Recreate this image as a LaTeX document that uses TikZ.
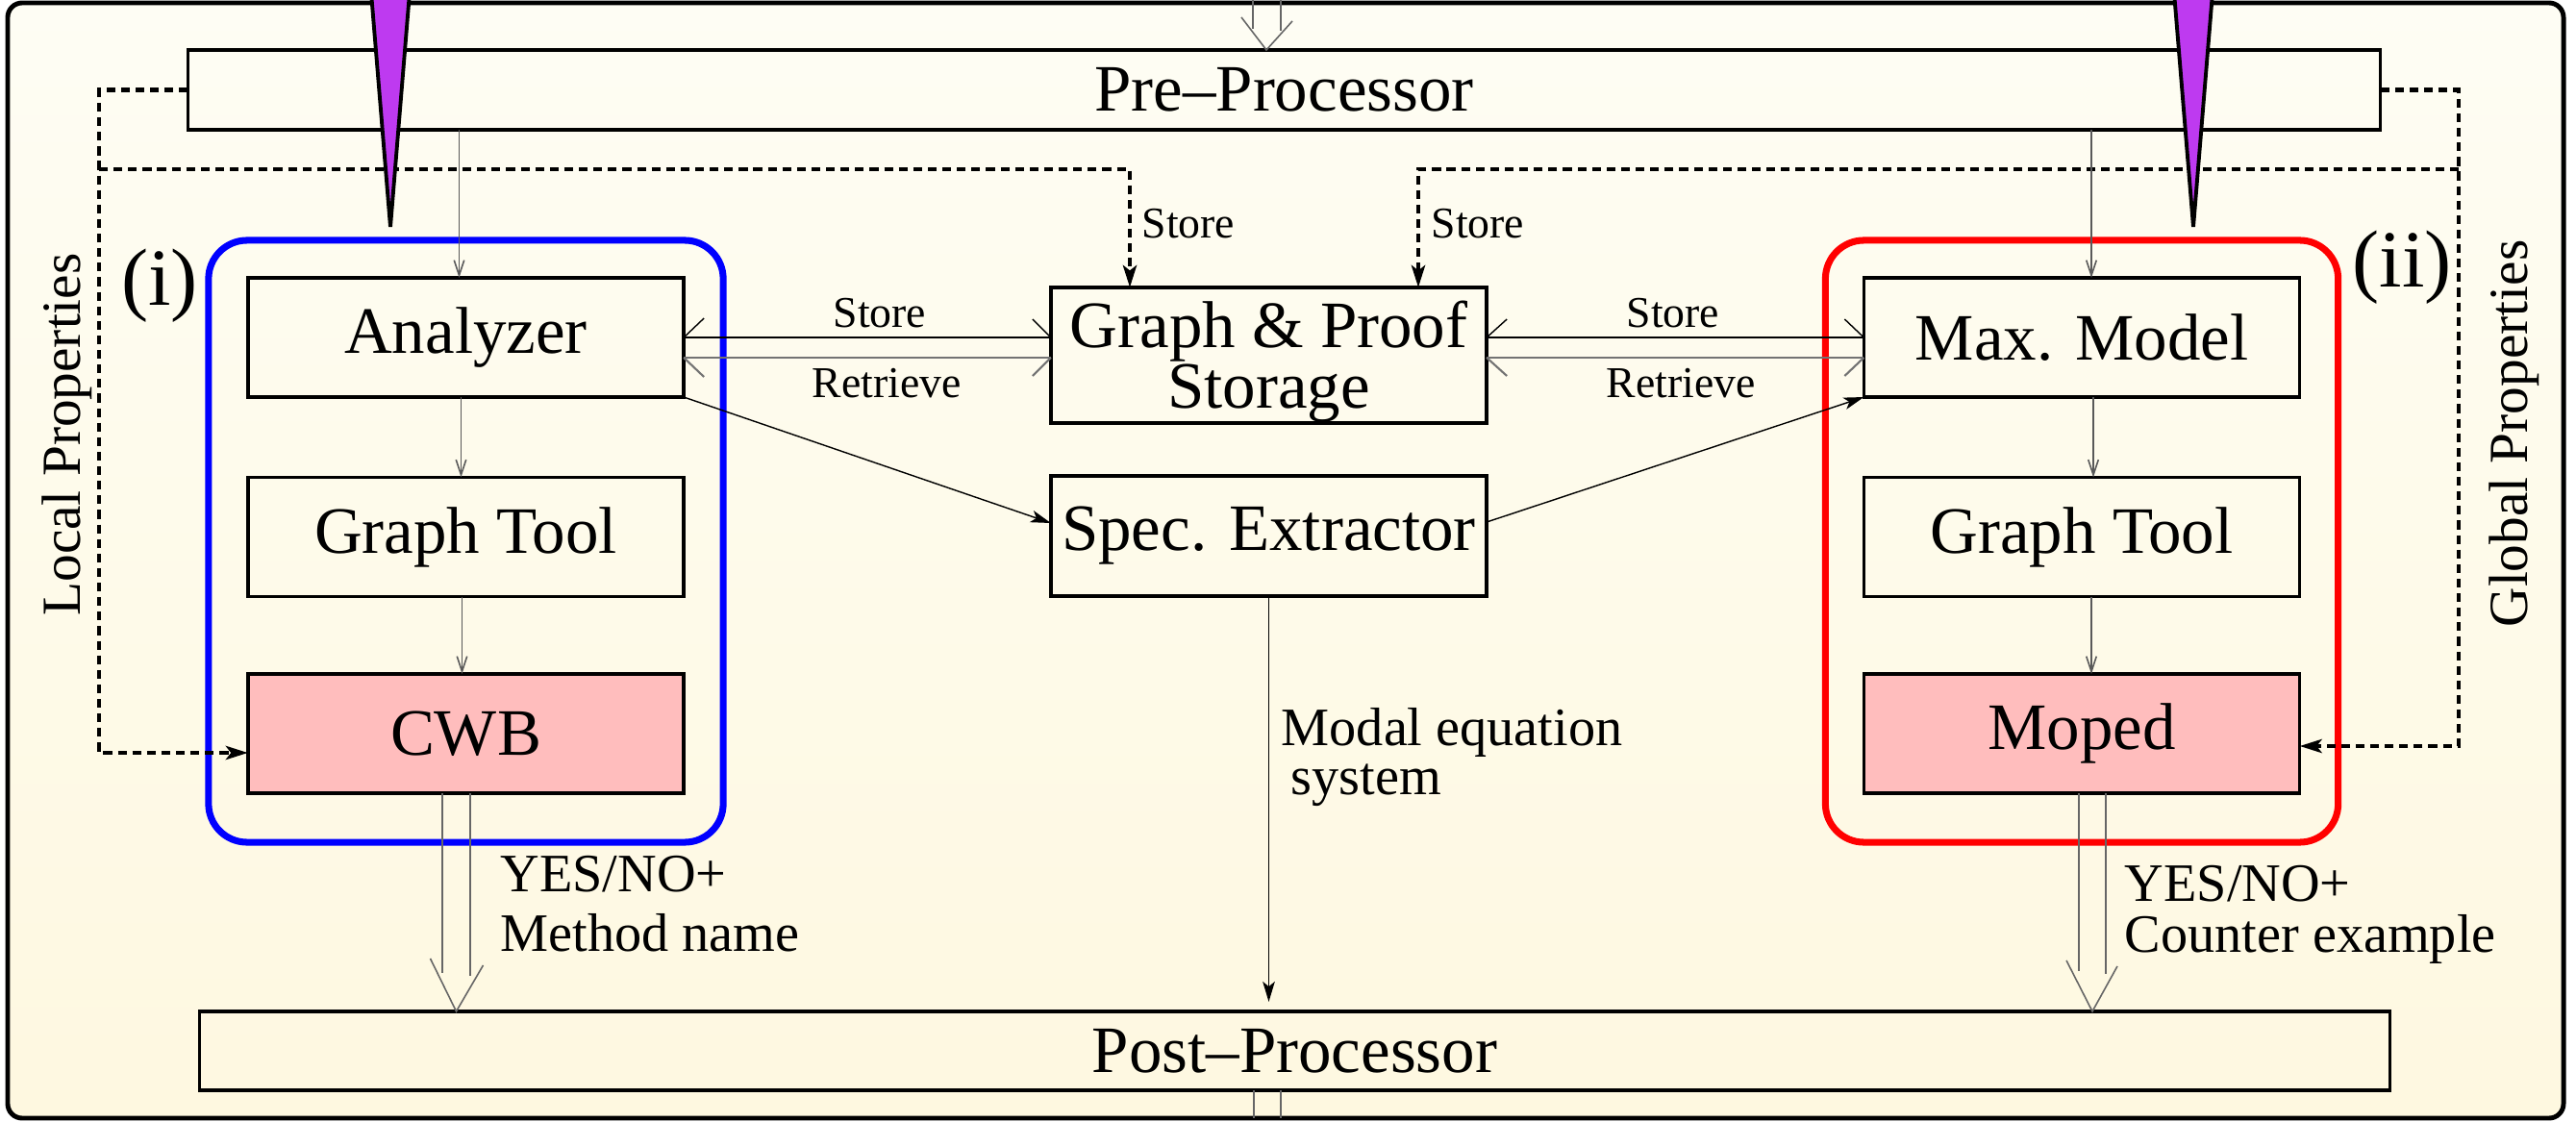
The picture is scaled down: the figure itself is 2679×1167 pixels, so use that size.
\documentclass[tikz,border=0pt]{standalone}
\usepackage{fontspec}
\setmainfont{Liberation Serif}
\usetikzlibrary{arrows.meta,calc}

\definecolor{paperTop}{RGB}{254,253,244}
\definecolor{paperBottom}{RGB}{254,248,224}
\definecolor{toolPink}{RGB}{255,189,189}
\definecolor{probeViolet}{RGB}{190,58,240}

\newcommand\boxfont{\fontsize{19.6}{18}\selectfont}

\tikzset{
  box/.style={draw=black, line width=1pt, minimum width=4.53cm, minimum height=1.24cm,
    inner sep=0pt, outer sep=0pt, align=center, font=\boxfont},
  tool/.style={box, fill=toolPink},
  bar/.style={draw=black, line width=1pt, inner sep=0pt, outer sep=0pt,
    font=\fontsize{19.6}{22}\selectfont},
  group/.style={line width=2pt, rounded corners=0.4cm},
  tag/.style={inner sep=0pt, font=\fontsize{24}{28}\selectfont},
  side/.style={inner sep=0pt, font=\fontsize{16.3}{19}\selectfont},
  small/.style={inner sep=0pt, font=\fontsize{13}{15}\selectfont},
  mid/.style={inner sep=0pt, align=left},
  flow/.style={draw=black!65, line width=0.45pt,
    -{Straight Barb[length=4.5pt, width=3pt, line width=0.45pt]}},
  solidArrow/.style={draw=black, line width=0.4pt,
    -{Stealth[length=6pt, width=3.6pt, inset=1.5pt]}},
  link/.style={draw=black, line width=0.4pt},
  linkgray/.style={draw=black!55, line width=0.6pt},
  dbl/.style={draw=black!60, line width=0.45pt},
  prop/.style={draw=black, line width=1.3pt, dash pattern=on 2.6pt off 1.7pt,
    -{Stealth[length=6.5pt, width=4pt, inset=1.5pt]}},
  probe/.style={fill=probeViolet, draw=black, line width=1.1pt},
}

\begin{document}
\begin{tikzpicture}[x=0.01cm, y=-0.01cm]
\useasboundingbox (0,0) rectangle (2679,1167);
\fill[white] (0,0) rectangle (2679,1167);

% outer frame with a soft paper tint
\path[draw=black, line width=1.4pt, rounded corners=0.15cm,
  top color=paperTop, bottom color=paperBottom] (8,3) rectangle (2666,1163);

% pre- and post-processing bars
\node[bar, minimum width=22.79cm, minimum height=0.83cm] (pre) at (1335.5,93.5) {Pre--Processor};
\node[bar, minimum width=22.77cm, minimum height=0.82cm] (post) at (1346.5,1093) {Post--Processor};

% local checking column
\node[box]  (ana) at (484.5,351)   {Analyzer};
\node[box]  (gtl) at (484.5,558.5) {Graph Tool};
\node[tool] (cwb) at (484.5,763)   {CWB};

% shared storage and extraction
\node[box, minimum height=1.41cm, text height=35.5pt] (gps) at (1319.5,369.5) {Graph \& Proof\\Storage};
\node[box, minimum height=1.25cm] (spec) at (1319.5,557.5) {Spec. Extractor};

% global checking column
\node[box]  (max)   at (2165,351)   {Max. Model};
\node[box]  (gtr)   at (2165,558.5) {Graph Tool};
\node[tool] (moped) at (2165,763)   {Moped};

% group outlines
\draw[group, draw=blue] ($(ana.north west)+(-41,-39)$) rectangle ($(cwb.south east)+(41,51)$);
\draw[group, draw=red]  ($(max.north west)+(-40,-39)$) rectangle ($(moped.south east)+(40,51)$);
\node[tag] (tagi)  at (166,297)  {(i)};
\node[tag] (tagii) at (2498,278) {(ii)};

% property routes (dashed)
\coordinate (lx) at (103,176);
\coordinate (rx) at (2557,176);
\draw[prop] (pre.west) -| (lx) |- ($(cwb.west)+(0,20)$);
\draw[prop] (lx) -| ($(gps.north)+(-144.5,0)$);
\draw[prop] (pre.east) -| (rx) |- ($(moped.east)+(0,13)$);
\draw[prop] (rx) -| ($(gps.north)+(155.5,0)$);
\node[small, anchor=base west] (stl) at (1187,248) {Store};
\node[small, anchor=base west] (str) at (1488,248) {Store};
\node[side, rotate=90, anchor=base] (localp)  at (83,452)   {Local Properties};
\node[side, rotate=90, anchor=base] (globalp) at (2628,451) {Global Properties};

% vertical tool chains
\draw[flow] ($(pre.south -| ana.north)+(-7,0)$) -- ($(ana.north)+(-7,0)$);
\draw[flow] ($(ana.south)+(-5,0)$) -- ($(gtl.north)+(-5,0)$);
\draw[flow] ($(gtl.south)+(-4,0)$) -- ($(cwb.north)+(-4,0)$);
\draw[flow] ($(pre.south -| max.north)+(10,0)$) -- ($(max.north)+(10,0)$);
\draw[flow] ($(max.south)+(12,0)$) -- ($(gtr.north)+(12,0)$);
\draw[flow] ($(gtr.south)+(10,0)$) -- ($(moped.north)+(10,0)$);

% store / retrieve links, left
\coordinate (gl) at (ana.east -| gps.west);
\draw[link] (ana.east) -- (gl);
\draw[linkgray] ($(ana.east)+(0,21)$) -- ($(gl)+(0,21)$);
\draw[link] ($(ana.east)+(21,-20)$) -- (ana.east);
\draw[linkgray] ($(ana.east)+(21,41)$) -- ($(ana.east)+(0,21)$);
\draw[link] ($(gl)+(-19,-19)$) -- (gl);
\draw[linkgray] ($(gl)+(-19,40)$) -- ($(gl)+(0,21)$);
\node[small, anchor=base] (sl)  at (915,341) {Store};
\node[small, anchor=base] (rl)  at (922,413) {Retrieve};

% store / retrieve links, right
\coordinate (gr) at (max.west -| gps.east);
\draw[link] (gr) -- (max.west);
\draw[linkgray] ($(gr)+(0,21)$) -- ($(max.west)+(0,21)$);
\draw[link] ($(gr)+(21,-19)$) -- (gr);
\draw[linkgray] ($(gr)+(21,40)$) -- ($(gr)+(0,21)$);
\draw[link] ($(max.west)+(-20,-19)$) -- (max.west);
\draw[linkgray] ($(max.west)+(-20,40)$) -- ($(max.west)+(0,21)$);
\node[small, anchor=base] (sr)  at (1740,341) {Store};
\node[small, anchor=base] (rr)  at (1748,413) {Retrieve};

% specification extraction
\draw[solidArrow] (ana.south east) -- ($(spec.west)+(0,-13.5)$);
\draw[solidArrow] ($(spec.east)+(0,-14.5)$) -- (max.south west);
\draw[solidArrow, shorten >=0.1cm] (spec.south) -- (spec.south |- post.north);
\node[mid, anchor=north west, font=\fontsize{16}{14.5}\selectfont] (modal) at (1332,736)
  {Modal equation\\\hspace*{0.1cm}system};

% results to the post-processor
\coordinate (cwbTip) at ($(post.north -| cwb.south)+(-10,0)$);
\draw[dbl] ($(cwb.south)+(-24.5,0)$) -- ++(0,187);
\draw[dbl] ($(cwb.south)+(4.5,0)$) -- ++(0,190);
\draw[dbl] ($(cwbTip)+(-27,-55)$) -- (cwbTip) -- ($(cwbTip)+(28,-48)$);
\node[mid, anchor=north west, font=\fontsize{16}{17.6}\selectfont] (resl) at (520,890)
  {YES/NO+\\Method name};

\coordinate (mopTip) at ($(post.north -| moped.south)+(11,0)$);
\draw[dbl] ($(moped.south)+(-3,0)$) -- ++(0,185);
\draw[dbl] ($(moped.south)+(25,0)$) -- ++(0,188);
\draw[dbl] ($(mopTip)+(-27,-53)$) -- (mopTip) -- ($(mopTip)+(26,-47)$);
\node[mid, anchor=north west, font=\fontsize{16}{14.8}\selectfont] (resr) at (2209,900)
  {YES/NO+\\Counter example};

% input and output of the whole tool
\coordinate (inTip) at ($(pre.north)+(-18.5,0)$);
\draw[dbl] ($(inTip)+(-14,-60)$) -- ++(0,38);
\draw[dbl] ($(inTip)+(15,-60)$) -- ++(0,40);
\draw[dbl] ($(inTip)+(-26,-34)$) -- (inTip) -- ($(inTip)+(27,-30)$);
\draw[dbl] ($(post.south)+(-42.5,0)$) -- ++(0,29);
\draw[dbl] ($(post.south)+(-14.5,0)$) -- ++(0,29);

% probes entering from above
\path[probe] (385,-20) -- (427,-20) -- (406,236) -- cycle;
\path[probe] (2260,-20) -- (2302,-20) -- (2281,236) -- cycle;
\end{tikzpicture}
\end{document}
